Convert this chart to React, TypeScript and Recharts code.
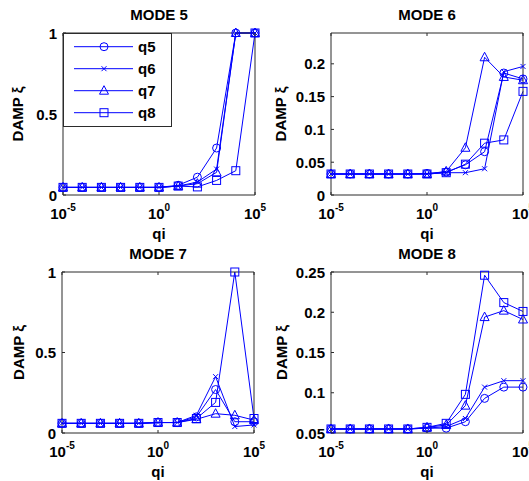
import { LineChart, Line, XAxis, YAxis, Legend, Label } from "recharts";

const qi = [1e-5, 1e-4, 1e-3, 1e-2, 1e-1, 1, 1e1, 1e2, 1e3, 1e4, 1e5];
const qiTicks = [1e-5, 1, 1e5];
const seriesNames = ["q5", "q6", "q7", "q8"];

// MODE 5
const m5q5 = [0.047, 0.047, 0.047, 0.047, 0.047, 0.047, 0.06, 0.11, 0.29, 1, 1];
const m5q6 = [0.047, 0.047, 0.047, 0.047, 0.047, 0.047, 0.055, 0.08, 0.16, 1, 1];
const m5q7 = [0.047, 0.047, 0.047, 0.047, 0.047, 0.047, 0.055, 0.07, 0.14, 1, 1];
const m5q8 = [0.047, 0.047, 0.047, 0.047, 0.047, 0.047, 0.055, 0.05, 0.09, 0.15, 1];

// MODE 6
const m6q5 = [0.032, 0.032, 0.032, 0.032, 0.032, 0.033, 0.035, 0.046, 0.066, 0.186, 0.177];
const m6q6 = [0.032, 0.032, 0.032, 0.032, 0.032, 0.032, 0.034, 0.034, 0.04, 0.188, 0.196];
const m6q7 = [0.032, 0.032, 0.032, 0.032, 0.032, 0.032, 0.036, 0.072, 0.21, 0.18, 0.175];
const m6q8 = [0.032, 0.032, 0.032, 0.032, 0.032, 0.032, 0.034, 0.047, 0.079, 0.084, 0.158];

// MODE 7
const m7q5 = [0.06, 0.06, 0.06, 0.06, 0.06, 0.065, 0.065, 0.1, 0.27, 0.07, 0.07];
const m7q6 = [0.06, 0.06, 0.06, 0.06, 0.06, 0.065, 0.065, 0.11, 0.35, 0.04, 0.05];
const m7q7 = [0.06, 0.06, 0.06, 0.06, 0.06, 0.065, 0.065, 0.085, 0.12, 0.11, 0.08];
const m7q8 = [0.06, 0.06, 0.06, 0.06, 0.06, 0.065, 0.065, 0.09, 0.19, 1, 0.09];

// MODE 8
const m8q5 = [0.055, 0.055, 0.055, 0.055, 0.055, 0.056, 0.056, 0.064, 0.093, 0.107, 0.107];
const m8q6 = [0.055, 0.055, 0.055, 0.055, 0.055, 0.056, 0.058, 0.068, 0.107, 0.115, 0.115];
const m8q7 = [0.055, 0.055, 0.055, 0.055, 0.055, 0.057, 0.06, 0.084, 0.194, 0.202, 0.191];
const m8q8 = [0.055, 0.055, 0.055, 0.055, 0.055, 0.057, 0.062, 0.098, 0.246, 0.212, 0.201];

const BLUE = "#0000ff";
const AX = "#2b2b2b";
const FONT = "'Liberation Sans', Arial, Helvetica, sans-serif";

type Shape = "circle" | "x" | "triangle" | "square";
const shapes: Shape[] = ["circle", "x", "triangle", "square"];

function Marker({ shape, cx, cy }: { shape: Shape; cx: number; cy: number }) {
  if (shape === "circle") {
    return <circle cx={cx} cy={cy} r={4} fill="none" stroke={BLUE} />;
  }
  if (shape === "x") {
    const s = 2.5;
    return (
      <path
        d={`M${cx - s},${cy - s}L${cx + s},${cy + s}M${cx - s},${cy + s}L${cx + s},${cy - s}`}
        stroke={BLUE}
        fill="none"
      />
    );
  }
  if (shape === "triangle") {
    return (
      <path
        d={`M${cx},${cy - 5}L${cx + 4.5},${cy + 3.5}L${cx - 4.5},${cy + 3.5}Z`}
        stroke={BLUE}
        fill="none"
      />
    );
  }
  return <rect x={cx - 4} y={cy - 4} width={8} height={8} stroke={BLUE} fill="none" />;
}

const LegendBox = () => (
  <svg width={109} height={94} style={{ display: "block" }}>
    <rect x={0.5} y={0.5} width={108} height={93} fill="#fff" stroke={AX} />
    {seriesNames.map((n, i) => {
      const cy = 13.7 + i * 22;
      return (
        <g key={n}>
          <line x1={11} x2={70} y1={cy} y2={cy} stroke={BLUE} />
          <Marker shape={shapes[i]} cx={41} cy={cy} />
          <text
            x={75}
            y={cy}
            dominantBaseline="central"
            fontFamily={FONT}
            fontWeight="bold"
            fontSize={15}
            fill="#000"
          >
            {n}
          </text>
        </g>
      );
    })}
  </svg>
);

interface Plot {
  l: number;
  t: number;
  r: number;
  b: number;
}

interface PanelProps {
  title: string;
  series: number[][];
  yDomain: [number, number];
  yTicks: number[];
  left: number;
  top: number;
  width: number;
  height: number;
  plot: Plot;
  ylabelGap: number;
  legend?: boolean;
}

const LW = 40;
const RW = 5;
const TH = 10;
const BH = 30;

function Panel({ title, series, yDomain, yTicks, left, top, width, height, plot, ylabelGap, legend }: PanelProps) {
  const data = qi.map((x, i) => {
    const row: Record<string, number> = { x };
    seriesNames.forEach((n, k) => {
      row[n] = series[k][i];
    });
    return row;
  });

  const margin = {
    left: plot.l - LW,
    top: plot.t - TH,
    right: width - plot.r - RW,
    bottom: height - plot.b - BH,
  };

  const textProps = { fontFamily: FONT, fontWeight: "bold" as const, fontSize: 15, fill: "#000" };

  const bottomTick = (props: any) => {
    const { x, payload } = props;
    const exp = Math.round(Math.log10(payload.value));
    return (
      <g>
        <line x1={x} x2={x} y1={plot.b} y2={plot.b - 3} stroke={AX} />
        <text x={x} y={plot.b + 24} textAnchor="middle" {...textProps}>
          <tspan>10</tspan>
          <tspan dy={-8} fontSize={10}>
            {exp}
          </tspan>
        </text>
      </g>
    );
  };
  const topTick = (props: any) => (
    <line x1={props.x} x2={props.x} y1={plot.t} y2={plot.t + 3} stroke={AX} />
  );
  const leftTick = (props: any) => {
    const { y, payload } = props;
    return (
      <g>
        <line x1={plot.l} x2={plot.l + 3} y1={y} y2={y} stroke={AX} />
        <text x={plot.l - 6} y={y} textAnchor="end" dominantBaseline="central" {...textProps}>
          {payload.value}
        </text>
      </g>
    );
  };
  const rightTick = (props: any) => (
    <line x1={plot.r} x2={plot.r - 3} y1={props.y} y2={props.y} stroke={AX} />
  );

  const cxMid = (plot.l + plot.r) / 2;
  const cyMid = (plot.t + plot.b) / 2;
  const ylx = plot.l - ylabelGap;

  return (
    <div style={{ position: "absolute", left, top }}>
      <LineChart width={width} height={height} margin={margin} data={data}>
        <XAxis
          xAxisId="b"
          dataKey="x"
          type="number"
          scale="log"
          domain={[1e-5, 1e5]}
          ticks={qiTicks}
          interval={0}
          height={BH}
          tickLine={false}
          axisLine={{ stroke: AX }}
          tick={bottomTick}
        >
          <Label
            content={() => (
              <text x={cxMid} y={plot.b + 44} textAnchor="middle" {...textProps}>
                qi
              </text>
            )}
          />
        </XAxis>
        <XAxis
          xAxisId="t"
          orientation="top"
          dataKey="x"
          type="number"
          scale="log"
          domain={[1e-5, 1e5]}
          ticks={qiTicks}
          interval={0}
          height={TH}
          tickLine={false}
          axisLine={{ stroke: AX }}
          tick={topTick}
        >
          <Label
            content={() => (
              <text x={cxMid} y={plot.t - 13} textAnchor="middle" {...textProps}>
                {title}
              </text>
            )}
          />
        </XAxis>
        <YAxis
          yAxisId="l"
          type="number"
          domain={yDomain}
          ticks={yTicks}
          interval={0}
          width={LW}
          tickLine={false}
          axisLine={{ stroke: AX }}
          tick={leftTick}
        >
          <Label
            content={() => (
              <text
                x={ylx}
                y={cyMid}
                textAnchor="middle"
                dominantBaseline="central"
                transform={`rotate(-90 ${ylx} ${cyMid})`}
                {...textProps}
              >
                DAMP ξ
              </text>
            )}
          />
        </YAxis>
        <YAxis
          yAxisId="r"
          orientation="right"
          type="number"
          domain={yDomain}
          ticks={yTicks}
          interval={0}
          width={RW}
          tickLine={false}
          axisLine={{ stroke: AX }}
          tick={rightTick}
        />
        {seriesNames.map((n, k) => (
          <Line
            key={n}
            xAxisId="b"
            yAxisId="l"
            type="linear"
            dataKey={n}
            stroke={BLUE}
            strokeWidth={1}
            isAnimationActive={false}
            dot={(p: any) => (
              <Marker key={`${n}-${p.index}`} shape={shapes[k]} cx={p.cx} cy={p.cy} />
            )}
            activeDot={false}
          />
        ))}
        {legend && (
          <Legend
            layout="vertical"
            align="center"
            verticalAlign="middle"
            wrapperStyle={{ left: plot.l, top: plot.t, width: 109, height: 94 }}
            content={() => <LegendBox />}
          />
        )}
      </LineChart>
    </div>
  );
}

export default function App() {
  return (
    <div style={{ position: "absolute", left: 0, top: 0, width: 529, height: 481, background: "#fff", overflow: "hidden" }}>
      <Panel
        title="MODE 5"
        series={[m5q5, m5q6, m5q7, m5q8]}
        yDomain={[0, 1]}
        yTicks={[0, 0.5, 1]}
        left={0}
        top={0}
        width={280}
        height={250}
        plot={{ l: 63, t: 33, r: 255, b: 195 }}
        ylabelGap={46}
        legend
      />
      <Panel
        title="MODE 6"
        series={[m6q5, m6q6, m6q7, m6q8]}
        yDomain={[0, 0.247]}
        yTicks={[0, 0.05, 0.1, 0.15, 0.2]}
        left={265}
        top={0}
        width={264}
        height={250}
        plot={{ l: 66, t: 33, r: 258, b: 195 }}
        ylabelGap={51}
      />
      <Panel
        title="MODE 7"
        series={[m7q5, m7q6, m7q7, m7q8]}
        yDomain={[0, 1]}
        yTicks={[0, 0.5, 1]}
        left={0}
        top={240}
        width={280}
        height={241}
        plot={{ l: 62, t: 32, r: 254, b: 193 }}
        ylabelGap={44}
      />
      <Panel
        title="MODE 8"
        series={[m8q5, m8q6, m8q7, m8q8]}
        yDomain={[0.05, 0.25]}
        yTicks={[0.05, 0.1, 0.15, 0.2, 0.25]}
        left={265}
        top={240}
        width={264}
        height={241}
        plot={{ l: 66, t: 32, r: 258, b: 193 }}
        ylabelGap={50}
      />
    </div>
  );
}
